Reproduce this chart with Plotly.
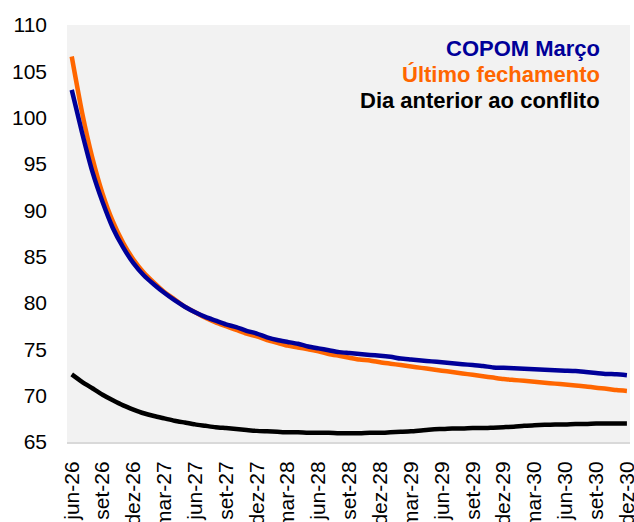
import plotly.graph_objects as go

tick_labels = ["jun-26", "set-26", "dez-26", "mar-27", "jun-27", "set-27", "dez-27",
               "mar-28", "jun-28", "set-28", "dez-28", "mar-29", "jun-29", "set-29",
               "dez-29", "mar-30", "jun-30", "set-30", "dez-30"]

copom_marco = [103.0, 98.4, 94.2, 90.9, 88.1, 86.0, 84.3, 83.0, 82.0, 81.1,
               80.3, 79.6, 79.0, 78.5, 78.1, 77.7, 77.4, 77.0, 76.7, 76.3,
               76.0, 75.8, 75.6, 75.3, 75.1, 74.9, 74.7, 74.6, 74.5, 74.4,
               74.3, 74.2, 74.0, 73.9, 73.8, 73.7, 73.6, 73.5, 73.4, 73.3,
               73.2, 73.05, 73.0, 72.95, 72.9, 72.85, 72.8, 72.75, 72.7, 72.65,
               72.55, 72.45, 72.35, 72.3, 72.2]

ultimo_fechamento = [106.6, 100.6, 95.7, 91.8, 88.8, 86.5, 84.7, 83.3, 82.2, 81.2,
                     80.4, 79.6, 79.0, 78.4, 77.9, 77.5, 77.1, 76.7, 76.4, 76.0,
                     75.7, 75.4, 75.2, 75.0, 74.8, 74.5, 74.3, 74.1, 73.9, 73.8,
                     73.6, 73.45, 73.3, 73.15, 73.0, 72.85, 72.7, 72.55, 72.4, 72.25,
                     72.1, 71.95, 71.8, 71.7, 71.6, 71.5, 71.4, 71.3, 71.2, 71.1,
                     71.0, 70.85, 70.75, 70.6, 70.5]

dia_anterior = [72.3, 71.5, 70.8, 70.1, 69.5, 68.95, 68.5, 68.1, 67.8, 67.55,
                67.3, 67.1, 66.9, 66.75, 66.6, 66.5, 66.4, 66.3, 66.2, 66.15,
                66.1, 66.05, 66.05, 66.0, 66.0, 66.0, 65.95, 65.95, 65.95, 66.0,
                66.0, 66.05, 66.1, 66.15, 66.25, 66.35, 66.4, 66.45, 66.45, 66.5,
                66.5, 66.55, 66.6, 66.65, 66.75, 66.8, 66.85, 66.9, 66.9, 66.95,
                66.95, 67.0, 67.0, 67.0, 67.0]

series = [
    ("Dia anterior ao conflito", dia_anterior, "#000000"),
    ("Último fechamento", ultimo_fechamento, "#FF6600"),
    ("COPOM Março", copom_marco, "#000099"),
]

months = list(range(len(copom_marco)))

fig = go.Figure()
for name, vals, color in series:
    fig.add_trace(go.Scatter(x=months, y=vals, mode="lines", name=name,
                             line=dict(color=color, width=4.5, shape="spline", smoothing=0.6)))

font_family = "Liberation Sans, Arial, sans-serif"

legend_items = [("COPOM Março", "#000099"), ("Último fechamento", "#FF6600"),
                ("Dia anterior ao conflito", "#000000")]
for i, (txt, col) in enumerate(legend_items):
    fig.add_annotation(text="<b>%s</b>" % txt, xref="paper", yref="paper",
                       x=0.95, y=0.944 - i * 0.0625, xanchor="right", yanchor="middle",
                       showarrow=False, font=dict(family=font_family, size=22, color=col))

fig.update_layout(
    width=634, height=522,
    margin=dict(l=67, r=4, t=25, b=80),
    paper_bgcolor="white", plot_bgcolor="#F2F2F2",
    showlegend=False,
    font=dict(family=font_family, size=21, color="#000000"),
    xaxis=dict(range=[-0.46, 54.3], tickmode="array",
               tickvals=list(range(0, len(copom_marco), 3)), ticktext=tick_labels,
               tickangle=-90, showgrid=False, zeroline=False, showline=True,
               linecolor="#D9D9D9", linewidth=2, ticks="", ticklabelstandoff=9,
               ticklabeloverflow="allow", automargin=False,
               tickfont=dict(size=21)),
    yaxis=dict(range=[65, 110], tickmode="array", tickvals=list(range(65, 111, 5)),
               showgrid=False, zeroline=False, showline=False, ticks="",
               ticklabelstandoff=19, automargin=False, tickfont=dict(size=21)),
)

fig.write_html("out.html", config={"displayModeBar": False},
               post_script="document.body.style.margin='0';document.body.style.overflow='hidden';")
